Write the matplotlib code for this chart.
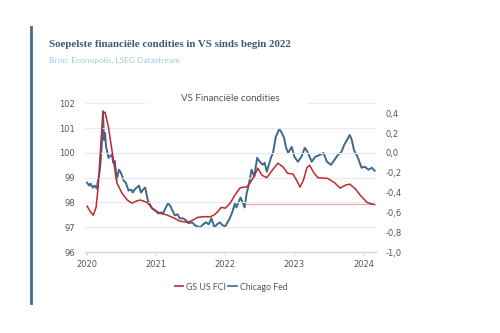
import matplotlib
matplotlib.use("Agg")
import matplotlib.pyplot as plt
from matplotlib.ticker import FuncFormatter
from matplotlib.lines import Line2D

# GS US FCI (left axis), decimal years
t_gs = [2020.00, 2020.05, 2020.09, 2020.13, 2020.16, 2020.20, 2020.23, 2020.26, 2020.31,
        2020.36, 2020.43, 2020.50, 2020.58, 2020.65, 2020.71, 2020.77, 2020.87, 2020.94,
        2021.05, 2021.15, 2021.25, 2021.34, 2021.45, 2021.50, 2021.55, 2021.60, 2021.70,
        2021.78, 2021.84, 2021.88, 2021.94, 2022.00, 2022.07, 2022.14, 2022.21, 2022.26,
        2022.31, 2022.36, 2022.40, 2022.44, 2022.47, 2022.53, 2022.60, 2022.68, 2022.76,
        2022.83, 2022.90, 2022.98, 2023.04, 2023.08, 2023.13, 2023.18, 2023.22, 2023.28,
        2023.34, 2023.42, 2023.48, 2023.58, 2023.66, 2023.74, 2023.80, 2023.88, 2023.95,
        2024.05, 2024.13, 2024.16]
gs = [97.85, 97.62, 97.49, 97.80, 98.60, 100.40, 101.60, 101.64, 101.03,
      100.10, 98.80, 98.40, 98.10, 97.97, 98.05, 98.10, 98.00, 97.77,
      97.57, 97.50, 97.38, 97.25, 97.20, 97.25, 97.32, 97.40, 97.43,
      97.42, 97.50, 97.60, 97.80, 97.77, 97.97, 98.30, 98.58, 98.62,
      98.62, 98.80, 98.98, 99.20, 99.38, 99.10, 99.00, 99.30, 99.58,
      99.45, 99.18, 99.14, 98.85, 98.62, 98.90, 99.40, 99.50, 99.20,
      99.00, 98.98, 98.97, 98.80, 98.58, 98.70, 98.74, 98.55, 98.30,
      98.00, 97.93, 97.92]

# Chicago Fed NFCI (right axis)
t_cf = [2020.00, 2020.03, 2020.05, 2020.08, 2020.11, 2020.14, 2020.16, 2020.18, 2020.19,
        2020.21, 2020.22, 2020.23, 2020.245, 2020.26, 2020.275, 2020.29, 2020.31, 2020.34,
        2020.36, 2020.38, 2020.40, 2020.43, 2020.46, 2020.48, 2020.50, 2020.53, 2020.56,
        2020.60, 2020.64, 2020.66, 2020.70, 2020.72, 2020.75, 2020.78, 2020.81, 2020.84,
        2020.88, 2020.91, 2020.94, 2020.98, 2021.03, 2021.07, 2021.10, 2021.14, 2021.17,
        2021.20, 2021.22, 2021.27, 2021.31, 2021.34, 2021.39, 2021.43, 2021.47, 2021.52,
        2021.56, 2021.59, 2021.64, 2021.68, 2021.72, 2021.76, 2021.80, 2021.84, 2021.88,
        2021.92, 2021.96, 2022.00, 2022.04, 2022.07, 2022.10, 2022.14, 2022.16, 2022.19,
        2022.22, 2022.25, 2022.28, 2022.31, 2022.33, 2022.36, 2022.38, 2022.42, 2022.46,
        2022.50, 2022.54, 2022.57, 2022.60, 2022.63, 2022.66, 2022.69, 2022.73, 2022.78,
        2022.81, 2022.85, 2022.88, 2022.91, 2022.96, 2023.00, 2023.05, 2023.10, 2023.15,
        2023.19, 2023.25, 2023.30, 2023.37, 2023.42, 2023.47, 2023.53, 2023.58, 2023.63,
        2023.68, 2023.72, 2023.76, 2023.80, 2023.83, 2023.86, 2023.92, 2023.97, 2024.02,
        2024.07, 2024.12, 2024.16]
cf = [-0.30, -0.33, -0.31, -0.35, -0.33, -0.36, -0.27, -0.20, -0.14,
      0.05, 0.20, 0.42, 0.13, 0.20, 0.06, 0.02, -0.05, -0.03,
      -0.02, -0.10, -0.08, -0.27, -0.17, -0.19, -0.22, -0.28, -0.30,
      -0.38, -0.37, -0.40, -0.36, -0.35, -0.33, -0.40, -0.37, -0.35,
      -0.48, -0.52, -0.56, -0.58, -0.61, -0.60, -0.61, -0.55, -0.51,
      -0.53, -0.56, -0.63, -0.62, -0.66, -0.66, -0.68, -0.71, -0.70,
      -0.73, -0.74, -0.75, -0.72, -0.70, -0.72, -0.66, -0.75, -0.72,
      -0.70, -0.73, -0.74, -0.69, -0.65, -0.60, -0.51, -0.55, -0.50,
      -0.45, -0.50, -0.55, -0.40, -0.35, -0.25, -0.17, -0.24, -0.05,
      -0.09, -0.12, -0.10, -0.19, -0.12, -0.05, 0.00, 0.16, 0.24,
      0.21, 0.15, 0.05, 0.00, 0.06, -0.04, -0.09, -0.04, 0.05,
      0.01, -0.09, -0.04, -0.02, 0.00, -0.09, -0.12, -0.07, -0.02,
      0.01, 0.08, 0.13, 0.18, 0.13, 0.03, -0.05, -0.15, -0.14,
      -0.17, -0.15, -0.18]

years = [2020, 2021, 2022, 2023, 2024]
left_ticks = [96, 97, 98, 99, 100, 101, 102]
right_ticks = [-1.0, -0.8, -0.6, -0.4, -0.2, 0.0, 0.2, 0.4]
ref_start = 2022.28  # level last seen in early 2022

RED = "#c0282d"
BLUE = "#3d6a8c"
GRID = "#e4eaf0"
TXT = "#555555"

fig = plt.figure(figsize=(5, 3.33), dpi=100)
fig.patch.set_facecolor("white")

ax = fig.add_axes([0.17, 0.243, 0.582, 0.447])
ax2 = ax.twinx()

x0, x1 = 2019.97, 2024.18
ax.set_xlim(x0, x1)
ax.set_ylim(96, 102)
ax2.set_ylim(-1.0, 0.5)

# gridlines; top one is interrupted behind the chart title
for v in left_ticks[1:-1]:
    ax.axhline(v, color=GRID, lw=0.8, zorder=0)
ax.hlines(102, x0, 2020.84, color=GRID, lw=0.8, zorder=0)
ax.hlines(102, 2023.2, x1, color=GRID, lw=0.8, zorder=0)

ax.hlines(gs[-1], ref_start, t_gs[-1], color="#f0a0a0", lw=0.8, zorder=1)
ax.plot(t_gs, gs, color=RED, lw=1.1, zorder=3)
ax2.plot(t_cf, cf, color=BLUE, lw=1.4, zorder=2)
ax.set_zorder(ax2.get_zorder() + 1)
ax.patch.set_visible(False)

for a in (ax, ax2):
    for s in ("top", "left", "right"):
        a.spines[s].set_visible(False)
    a.spines["bottom"].set_color("#c8d6e3")

ax.set_xticks(years)
ax.set_xticklabels([str(y) for y in years])
ax.tick_params(axis="x", length=2, color="#c8d6e3", labelsize=6, labelcolor=TXT, pad=4)
ax.set_yticks(left_ticks)
ax.tick_params(axis="y", length=0, labelsize=6, labelcolor=TXT, pad=7)
ax2.set_yticks(right_ticks)
ax2.yaxis.set_major_formatter(FuncFormatter(lambda v, p: f"{v:.1f}".replace(".", ",")))
ax2.tick_params(axis="y", length=0, labelsize=6, labelcolor=TXT, pad=7)

ax.text(0.5, 1.0, "VS Financiële condities", transform=ax.transAxes, ha="center",
        va="bottom", fontsize=7, color=TXT, family="Lato")

fig.text(0.098, 0.858, "Soepelste financiële condities in VS sinds begin 2022",
         fontsize=7.8, fontweight="bold", color="#3d5a73", family="Liberation Serif")
fig.text(0.098, 0.81, "Bron: Econopolis, LSEG Datastream",
         fontsize=6, color="#a7c5dd", family="Lato")

# left accent bar
fig.add_artist(Line2D([0.062, 0.062], [0.09, 0.919], color="#3f6a8a", lw=2,
                      transform=fig.transFigure))

handles = [Line2D([], [], color=RED, lw=1.2), Line2D([], [], color=BLUE, lw=1.2)]
fig.legend(handles, ["GS US FCI", "Chicago Fed"], loc="center", bbox_to_anchor=(0.462, 0.138),
           ncol=2, frameon=False, handlelength=1.0, handletextpad=0.3,
           columnspacing=0.3, labelcolor=TXT, prop={"family": "Lato", "size": 6.3})

fig.savefig("out.png", dpi=100, facecolor="white")
